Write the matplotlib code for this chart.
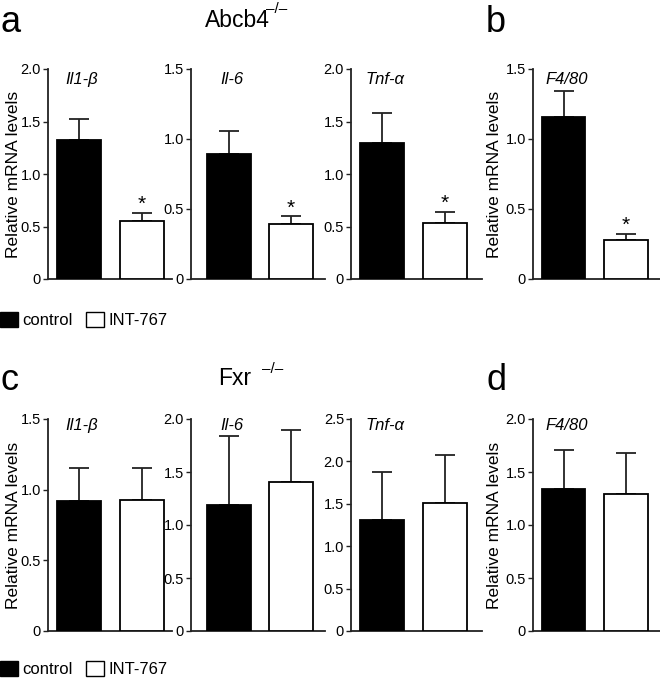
import matplotlib
matplotlib.use('Agg')
import matplotlib.pyplot as plt
from matplotlib.patches import Patch
from matplotlib.ticker import FuncFormatter

plt.rcParams['font.family'] = ['Liberation Sans', 'DejaVu Sans']

genes = ['Il1-β', 'Il-6', 'Tnf-α', 'F4/80']
groups = ['control', 'INT-767']

# Abcb4-/- (top row)
abcb4_mean = [[1.32, 0.55], [0.89, 0.39], [1.30, 0.53], [1.16, 0.28]]
abcb4_sem = [[0.20, 0.08], [0.17, 0.06], [0.28, 0.11], [0.18, 0.045]]
abcb4_ymax = [2.0, 1.5, 2.0, 1.5]
abcb4_sig = [True, True, True, True]

# Fxr-/- (bottom row)
fxr_mean = [[0.92, 0.925], [1.19, 1.405], [1.31, 1.51], [1.34, 1.29]]
fxr_sem = [[0.235, 0.225], [0.65, 0.495], [0.56, 0.56], [0.37, 0.39]]
fxr_ymax = [1.5, 2.0, 2.5, 2.0]
fxr_sig = [False, False, False, False]

W, H = 660, 679
fig = plt.figure(figsize=(W / 100, H / 100), dpi=100)

# axis extents in pixels: (left, right), and xlim for each panel
panel_px = [(48, 172), (191, 325), (351, 482), (533, 660)]
panel_xlim = [(-0.49, 1.48), (-0.61, 1.55), (-0.49, 1.59), (-0.49, 1.55)]
colors = ['black', 'white']


def fmt(v, pos):
    return '0' if v == 0 else '%.1f' % v


def draw_row(top_px, bot_px, means, sems, ymaxes, sig, label_y):
    for i in range(4):
        l, r = panel_px[i]
        ax = fig.add_axes([l / W, (H - bot_px) / H, (r - l) / W, (bot_px - top_px) / H])
        ax.bar([0, 1], means[i], width=0.7, color=colors, edgecolor='black',
               linewidth=1.3, zorder=3)
        ax.errorbar([0, 1], means[i], yerr=[[0, 0], sems[i]], fmt='none',
                    ecolor='#222222', elinewidth=1.3, capsize=7.5, capthick=1.3, zorder=2)
        if sig[i]:
            ax.annotate('*', (1, means[i][1] + sems[i][1]), xytext=(0, -1),
                        textcoords='offset points', ha='center', va='bottom', fontsize=15)
        ax.set_xlim(*panel_xlim[i])
        ax.set_ylim(0, ymaxes[i])
        step = 0.5
        ax.set_yticks([k * step for k in range(int(round(ymaxes[i] / step)) + 1)])
        ax.yaxis.set_major_formatter(FuncFormatter(fmt))
        ax.set_xticks([])
        for s in ['top', 'right']:
            ax.spines[s].set_visible(False)
        for s in ['left', 'bottom']:
            ax.spines[s].set_linewidth(1.3)
            ax.spines[s].set_color('#222222')
        ax.tick_params(axis='y', length=3.5, width=1.0, labelsize=10.5, pad=1.5,
                       color='#222222')
        ax.text(0.05, label_y, genes[i], transform=ax.get_xaxis_transform(),
                ha='center', va='center', fontsize=12, style='italic')
        if i in (0, 3):
            ax.set_ylabel('Relative mRNA levels', fontsize=12.5)
            ax.yaxis.set_label_coords(-0.215 if i == 0 else -0.245, 0.5)


draw_row(69, 279, abcb4_mean, abcb4_sem, abcb4_ymax, abcb4_sig, 0.95)
draw_row(419, 631, fxr_mean, fxr_sem, fxr_ymax, fxr_sig, 0.97)

# panel letters and titles
fig.text(1 / W, 1 - 32 / H, 'a', fontsize=26, va='baseline')
fig.text(486 / W, 1 - 32 / H, 'b', fontsize=26, va='baseline')
fig.text(1 / W, 1 - 390 / H, 'c', fontsize=26, va='baseline')
fig.text(486 / W, 1 - 390 / H, 'd', fontsize=26, va='baseline')

fig.text(205 / W, 1 - 27 / H, 'Abcb4', fontsize=16.5, va='baseline')
fig.text(266 / W, 1 - 13 / H, '–/–', fontsize=11, va='baseline')
fig.text(218 / W, 1 - 385 / H, 'Fxr', fontsize=16.5, va='baseline')
fig.text(262 / W, 1 - 373 / H, '–/–', fontsize=11, va='baseline')

# legends
handles = [Patch(facecolor=c, edgecolor='black', linewidth=1.0) for c in colors]
for y_px in (328, 677):
    fig.legend(handles, groups, loc='lower left', bbox_to_anchor=(0, (H - y_px) / H),
               ncol=2, frameon=False, fontsize=12, handlelength=1.05, handleheight=1.05,
               handletextpad=0.3, columnspacing=0.8, borderaxespad=0, borderpad=0)

fig.savefig('out.png', dpi=100)
